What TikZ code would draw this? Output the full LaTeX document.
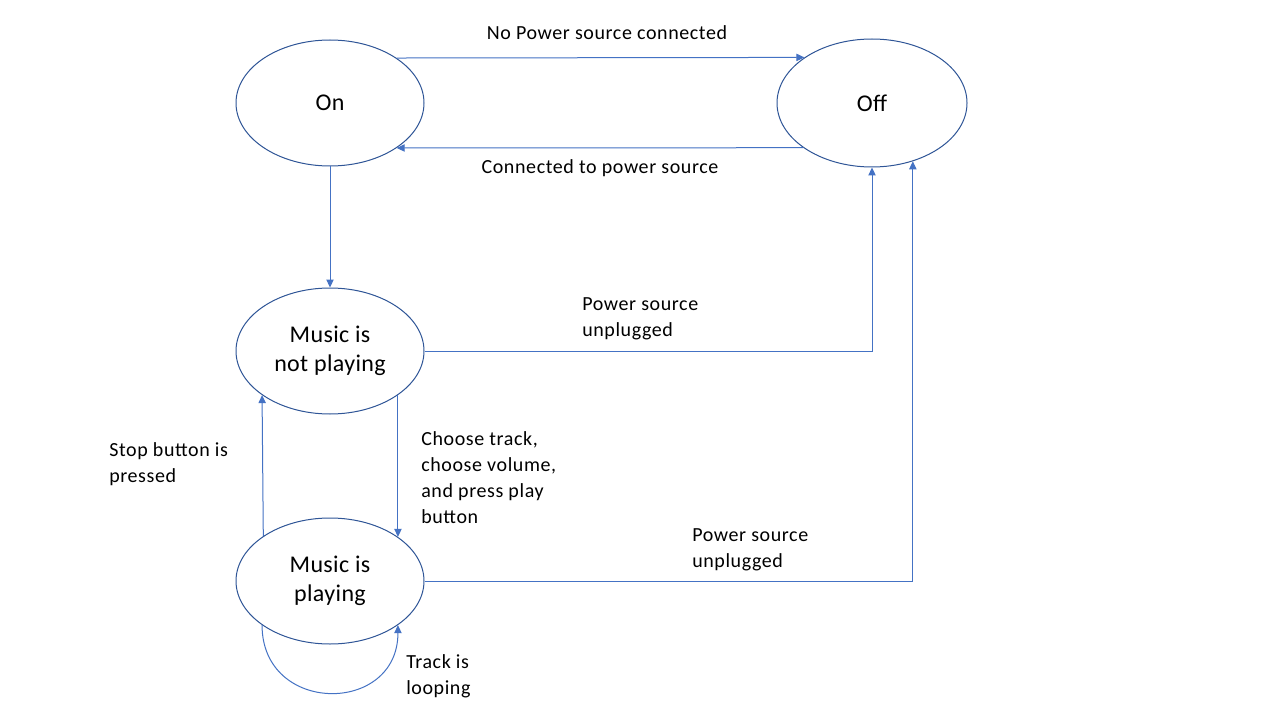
\documentclass[tikz,border=0pt]{standalone}
\usepackage{fontspec}
\setmainfont{Carlito}
\usetikzlibrary{shapes.geometric,arrows.meta}
\definecolor{ellcol}{HTML}{2F5597}
\definecolor{arrcol}{HTML}{4472C4}
\tikzset{
  state/.style={ellipse, draw=ellcol, line width=0.75pt, inner sep=0pt,
    minimum width=141pt, minimum height=94.5pt, align=center,
    font=\fontsize{18}{22}\selectfont\addfontfeatures{LetterSpace=1.5}},
  conn/.style={draw=arrcol, line width=0.75pt, -{Triangle[length=6pt,width=5.5pt]}},
  lbl/.style={inner sep=0pt, align=left,
    font=\fontsize{15}{19.5}\selectfont\addfontfeatures{LetterSpace=3}}
}
\begin{document}
\begin{tikzpicture}[x=0.75pt,y=-0.75pt]
\useasboundingbox[fill=white] (0,0) rectangle (1280,720);
\node[state] (on) at (330,103) {On};
\node[state, minimum width=142.5pt, minimum height=96pt] (off) at (872,103) {Off};
\node[state] (np) at (330,351) {Music is\\not playing};
\node[state] (p) at (330,581) {Music is\\playing};

\draw[conn] (on.34.3) -- (off.146.3);
\draw[conn] (off.213.7) -- (on.-34.3);
\draw[conn] (on.south) -- (np.north);
\draw[conn] (np.east) -| (off.south);
\draw[conn] (p.east) -| (off.-55.4);
\draw[conn] (p.146.6) -- (np.213.4);
\draw[conn] (np.-33.4) -- (p.33.4);
\draw[conn] (p.213.4) .. controls +(0,90) and +(0,90) .. (p.-33.4);

\node[lbl, anchor=center] (l1) at (607,33) {No Power source connected};
\node[lbl, anchor=center] (l2) at (600,168) {Connected to power source};
\node[lbl, anchor=west] (l3) at (582,319) {Power source\\unplugged};
\node[lbl, anchor=west] (l4) at (421,477.5) {Choose track,\\choose volume,\\and press play\\button};
\node[lbl, anchor=west] (l5) at (109,464) {Stop button is\\pressed};
\node[lbl, anchor=west] (l6) at (692,549.5) {Power source\\unplugged};
\node[lbl, anchor=west] (l7) at (406,676) {Track is\\looping};
\end{tikzpicture}
\end{document}
